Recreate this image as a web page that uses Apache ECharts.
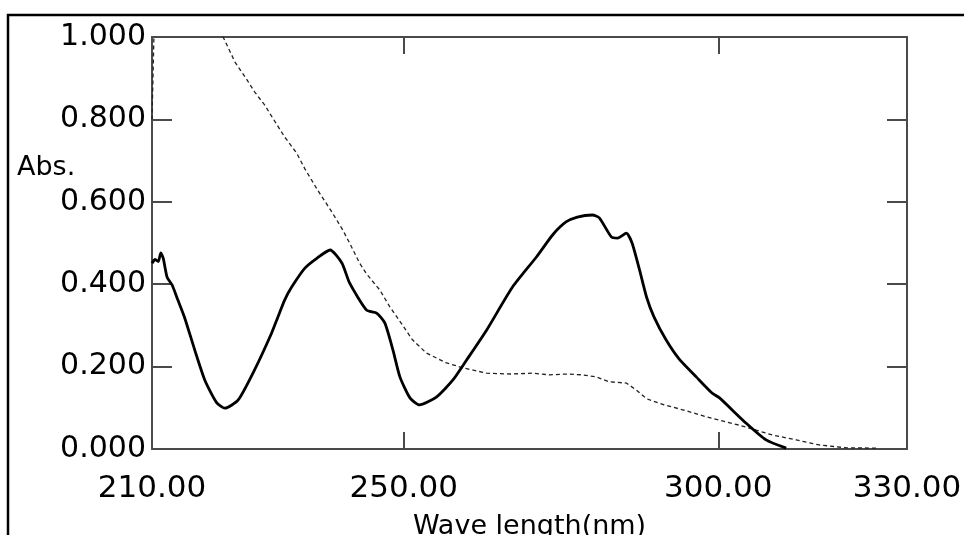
<!DOCTYPE html>
<html>
<head>
<meta charset="utf-8">
<script src="https://cdn.jsdelivr.net/npm/echarts@6/dist/echarts.min.js"></script>
<style>
html,body{margin:0;padding:0;background:#fff;}
#chart{width:964px;height:535px;}
</style>
</head>
<body>
<div id="chart"></div>
<script>
// Wavelength (nm) and absorbance for the solid spectrum
var solidWave = [210.0,210.5,211.0,211.4,211.8,212.4,213.2,214.1,215.2,216.8,218.4,220.3,221.6,223.7,226.3,229.0,230.0,231.1,232.2,234.3,236.3,238.3,240.2,241.4,244.1,245.7,247.0,248.3,249.4,251.0,252.5,255.2,257.8,260.0,263.2,267.3,271.1,273.7,275.8,277.6,280.0,281.1,283.0,284.0,285.4,286.3,287.5,288.6,289.8,291.7,293.8,296.5,299.0,300.2,304.4,307.6,310.8];
var solidAbs  = [0.451,0.460,0.455,0.476,0.462,0.417,0.398,0.362,0.318,0.240,0.167,0.112,0.099,0.119,0.192,0.281,0.320,0.362,0.393,0.439,0.464,0.483,0.451,0.403,0.337,0.330,0.306,0.240,0.175,0.124,0.107,0.126,0.167,0.216,0.289,0.393,0.466,0.520,0.551,0.563,0.568,0.561,0.515,0.512,0.524,0.500,0.434,0.369,0.320,0.265,0.218,0.175,0.136,0.124,0.063,0.022,0.002];
// Wavelength (nm) and absorbance for the dashed spectrum (values above 1 are off scale)
var dashWave = [210.0,210.3,210.6,215.0,220.0,221.3,223.2,225.1,226.3,227.9,229.2,231.1,233.0,234.3,236.3,238.6,240.3,241.4,243.0,244.1,246.2,247.8,249.4,251.4,253.6,256.8,259.4,263.2,267.0,270.5,273.2,276.0,278.4,280.6,282.7,285.4,287.0,288.6,291.4,294.9,298.1,300.2,303.3,306.0,308.6,312.4,316.0,320.3,325.1];
var dashAbs  = [0.80,1.00,1.15,1.40,1.05,1.00,0.939,0.896,0.867,0.835,0.803,0.757,0.718,0.680,0.629,0.575,0.532,0.500,0.451,0.425,0.386,0.345,0.310,0.265,0.233,0.209,0.197,0.184,0.182,0.184,0.180,0.182,0.180,0.175,0.163,0.160,0.143,0.122,0.107,0.093,0.078,0.070,0.058,0.046,0.034,0.022,0.010,0.003,0.002];
// Axis tick labels
var xLabelValues = [210, 250, 300, 330];
var xTickValues = [250, 300];
var yTickValues = [0.2, 0.4, 0.6, 0.8];
var xTitle = 'Wave length(nm)';
var yTitle = 'Abs.';

function zip(a, b) { return a.map(function (v, i) { return [v, b[i]]; }); }

var FONT = 'DejaVu Sans';
var AX = '#4a4a4a';
var chart = echarts.init(document.getElementById('chart'), null, {renderer: 'canvas'});
chart.setOption({
  animation: false,
  backgroundColor: '#fff',
  grid: {left: 152, top: 37, right: 57, bottom: 86, containLabel: false, outerBoundsMode: 'none'},
  xAxis: [{
    type: 'value', min: 210, max: 330, position: 'bottom',
    name: xTitle, nameLocation: 'middle', nameGap: 64,
    nameTextStyle: {fontFamily: FONT, fontSize: 27, color: '#000'},
    axisLine: {show: true, onZero: false, lineStyle: {color: AX, width: 2}},
    axisTick: {show: true, inside: true, length: 17, customValues: xTickValues, lineStyle: {color: AX, width: 2}},
    axisLabel: {show: true, customValues: xLabelValues, margin: 24, fontFamily: FONT, fontSize: 31, color: '#000',
      formatter: function (v) { return Number(v).toFixed(2); }},
    splitLine: {show: false}
  }, {
    type: 'value', min: 210, max: 330, position: 'top',
    axisLine: {show: true, onZero: false, lineStyle: {color: AX, width: 2}},
    axisTick: {show: true, inside: true, length: 17, customValues: xTickValues, lineStyle: {color: AX, width: 2}},
    axisLabel: {show: false}, splitLine: {show: false}
  }],
  yAxis: [{
    type: 'value', min: 0, max: 1, interval: 0.2, position: 'left',
    axisLine: {show: true, onZero: false, lineStyle: {color: AX, width: 2}},
    axisTick: {show: true, inside: true, length: 20, customValues: yTickValues, lineStyle: {color: AX, width: 2}},
    axisLabel: {show: true, margin: 6, fontFamily: FONT, fontSize: 30, color: '#000',
      formatter: function (v) { return Number(v).toFixed(3); }},
    splitLine: {show: false}
  }, {
    type: 'value', min: 0, max: 1, interval: 0.2, position: 'right',
    axisLine: {show: true, onZero: false, lineStyle: {color: AX, width: 2}},
    axisTick: {show: true, inside: true, length: 20, customValues: yTickValues, lineStyle: {color: AX, width: 2}},
    axisLabel: {show: false}, splitLine: {show: false}
  }],
  graphic: [{
    type: 'rect', z: -10, silent: true,
    shape: {x: 8, y: 15, width: 1100, height: 700},
    style: {fill: null, stroke: '#000', lineWidth: 2.5}
  }, {
    type: 'text', silent: true,
    style: {x: 17, y: 168, text: yTitle, fontFamily: FONT, fontSize: 27, fill: '#000', textAlign: 'left', textVerticalAlign: 'middle'}
  }],
  series: [{
    type: 'line', name: 'dashed', xAxisIndex: 0, yAxisIndex: 0,
    data: zip(dashWave, dashAbs), showSymbol: false, smooth: false, clip: true,
    lineStyle: {color: '#222', width: 1.3, type: [4, 3]}
  }, {
    type: 'line', name: 'solid', xAxisIndex: 0, yAxisIndex: 0,
    data: zip(solidWave, solidAbs), showSymbol: false, smooth: 0.2, clip: true,
    lineStyle: {color: '#000', width: 2.8}
  }]
});
</script>
</body>
</html>
